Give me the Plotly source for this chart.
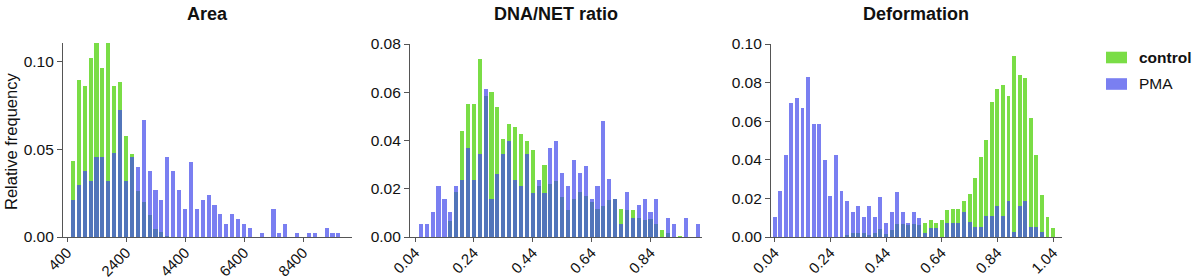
import plotly.graph_objects as go

# ---------------- data ----------------
area_centers = list(range(600, 9601, 200))
area_control = [0.0435, 0.0894, 0.0860, 0.1017, 0.111, 0.0964, 0.111, 0.0860, 0.0882, 0.0577,
                0.0471, 0.0264, 0.0201, 0.0125, 0.0046, 0.0030, 0.0005, 0, 0, 0,
                0, 0, 0, 0, 0, 0, 0, 0, 0, 0,
                0, 0, 0, 0, 0, 0, 0, 0, 0, 0,
                0, 0, 0, 0, 0, 0]
area_pma = [0.0211, 0.0294, 0.0374, 0.0321, 0.0454, 0.0454, 0.0321, 0.0480, 0.0723, 0.0321,
            0.0454, 0.0400, 0.0668, 0.0374, 0.0266, 0.0213, 0.0454, 0.0374, 0.0266, 0.0160,
            0.0427, 0.0160, 0.0210, 0.0237, 0.0184, 0.0129, 0.0076, 0.0129, 0.0102, 0.0076,
            0.0049, 0, 0.0023, 0, 0.0158, 0.0023, 0.0076, 0, 0.0023, 0,
            0.0023, 0.0023, 0, 0.0049, 0.0023, 0.0023]
area_ticks = [400, 2400, 4400, 6400, 8400]

dna_centers = [round(0.06 + 0.02 * i, 2) for i in range(48)]
dna_control = [0, 0, 0, 0, 0, 0.0066, 0.0188, 0.0439, 0.0551, 0.0551,
               0.0739, 0.0585, 0.0603, 0.0537, 0.0408, 0.0468, 0.0457, 0.0426, 0.0397, 0.0361,
               0.0213, 0.0298, 0.0221, 0.0232, 0.0166, 0.0110, 0.0158, 0.0188, 0.0170, 0.0147,
               0.0118, 0.0129, 0.0152, 0.0158, 0.0116, 0.0110, 0.0110, 0.0080, 0.0070, 0.0075,
               0.0053, 0.0028, 0.0017, 0, 0.0004, 0, 0, 0]
dna_pma = [0.0053, 0.0053, 0.0105, 0.0213, 0.0158, 0.0102, 0.0210, 0.0238, 0.0371, 0.0238,
           0.0343, 0.0613, 0.0156, 0.0263, 0.0343, 0.0399, 0.0237, 0.0210, 0.0343, 0.0183,
           0.0237, 0.0183, 0.0371, 0.0399, 0.0267, 0.0213, 0.0321, 0.0267, 0.0293, 0.0158,
           0.0213, 0.0482, 0.0240, 0.0158, 0.0053, 0.0185, 0.0080, 0.0133, 0.0158, 0.0105,
           0.0158, 0, 0.0080, 0.0053, 0, 0.0080, 0, 0.0053]
dna_ticks = [0.04, 0.24, 0.44, 0.64, 0.84]

def_centers = [round(0.04 + 0.02 * i, 2) for i in range(51)]
def_control = [0, 0, 0, 0, 0, 0, 0, 0, 0, 0,
               0, 0, 0, 0.0010, 0.0020, 0.0020, 0.0020, 0.0010, 0.0020, 0.0040,
               0.0014, 0.0035, 0.0066, 0.0066, 0.0060, 0.0066, 0.0060, 0.0071, 0.0088, 0.0071,
               0.0088, 0.0138, 0.0147, 0.0147, 0.0187, 0.0221, 0.0306, 0.0417, 0.0502, 0.0700,
               0.0765, 0.0789, 0.0730, 0.0938, 0.0837, 0.0824, 0.0618, 0.0424, 0.0216, 0.0104,
               0.0045]
def_pma = [0.0104, 0.0240, 0.0427, 0.0695, 0.0721, 0.0670, 0.0829, 0.0587, 0.0587, 0.0401,
           0.0213, 0.0427, 0.0239, 0.0185, 0.0131, 0.0159, 0.0104, 0.0159, 0.0104, 0.0208,
           0.0074, 0.0128, 0.0235, 0.0128, 0.0074, 0.0128, 0.0100, 0.0022, 0.0048, 0.0048,
           0, 0.0074, 0.0074, 0.0074, 0.0131, 0.0078, 0.0052, 0.0052, 0.0107, 0.0107,
           0.0159, 0.0107, 0.0185, 0.0026, 0.0159, 0.0185, 0.0052, 0.0052, 0.0026, 0, 0]
def_ticks = [0.04, 0.24, 0.44, 0.64, 0.84, 1.04]

panel_titles = ["Area", "DNA/NET ratio", "Deformation"]
series_names = ["control", "PMA"]

# ---------------- style ----------------
GREEN = "rgb(122,221,70)"
BLUE = "rgba(66,72,235,0.7)"
FONT = "Liberation Sans, Arial, sans-serif"
AXC = "#555555"
W, H = 1193, 279

fig = go.Figure()

panels = [
    (area_centers, area_control, area_pma, 200, "x", "y"),
    (dna_centers, dna_control, dna_pma, 0.02, "x2", "y2"),
    (def_centers, def_control, def_pma, 0.02, "x3", "y3"),
]
for i, (xs, c, p, bw, xa, ya) in enumerate(panels):
    fig.add_trace(go.Bar(x=xs, y=c, width=bw * 0.7, marker=dict(color=GREEN, line=dict(width=0)),
                         name=series_names[0], showlegend=False, xaxis=xa, yaxis=ya))
    fig.add_trace(go.Bar(x=xs, y=p, width=bw * 0.7, marker=dict(color=BLUE, line=dict(width=0)),
                         name=series_names[1], showlegend=False, xaxis=xa, yaxis=ya))


def px_x(a, b):
    return [a / W, b / W]


def py(v):
    return 1 - v / H


ydom = [py(237), py(44)]
xdoms = [px_x(63, 352), px_x(410, 702), px_x(771, 1062)]
xranges = [[264, 10060], [0.023, 1.015], [0.027, 1.072]]
xticks = [area_ticks, dna_ticks, def_ticks]
yranges = [[0, 0.1104], [0, 0.08], [0, 0.10]]
yticks = [[0, 0.05, 0.10], [0, 0.02, 0.04, 0.06, 0.08], [0, 0.02, 0.04, 0.06, 0.08, 0.10]]
ydoms = [[py(237), py(43)], ydom, ydom]

common_axis = dict(showline=True, linecolor=AXC, linewidth=1.2, ticks="outside", ticklen=5,
                   tickcolor=AXC, tickwidth=1.2, showgrid=False, zeroline=False,
                   tickfont=dict(family=FONT, size=15.5, color="#111"), automargin=False)

layout = dict(
    width=W, height=H, margin=dict(l=0, r=0, t=0, b=0),
    paper_bgcolor="white", plot_bgcolor="white",
    barmode="overlay", bargap=0,
    font=dict(family=FONT, color="#111"),
    showlegend=False,
)
for i in range(3):
    sfx = "" if i == 0 else str(i + 1)
    layout["xaxis" + sfx] = dict(common_axis, domain=xdoms[i], range=xranges[i],
                                 tickvals=xticks[i],
                                 ticktext=[(f"{v:.2f}" if isinstance(v, float) else str(v)) for v in xticks[i]],
                                 tickangle=-45, anchor="y" + sfx, ticklen=4,
                                 ticklabelstandoff=-4,
                                 tickfont=dict(family=FONT, size=15, color="#111"))
    layout["yaxis" + sfx] = dict(common_axis, domain=ydoms[i], range=yranges[i],
                                 tickvals=yticks[i], ticktext=[f"{v:.2f}" for v in yticks[i]],
                                 anchor="x" + sfx)

fig.update_layout(**layout)

annotations = []
centers_px = [207.5, 556, 916.5]
for t, cx in zip(panel_titles, centers_px):
    annotations.append(dict(text="<b>" + t + "</b>", x=cx / W, y=py(14), xref="paper", yref="paper",
                            showarrow=False, xanchor="center", yanchor="middle",
                            font=dict(family=FONT, size=18, color="#111")))
annotations.append(dict(text="Relative frequency", x=11 / W, y=py(142), xref="paper", yref="paper",
                        showarrow=False, textangle=-90, xanchor="center", yanchor="middle",
                        font=dict(family=FONT, size=16.5, color="#111")))

# legend (swatch + label per series)
shapes = []
legend_rows = [(series_names[0], GREEN, 57.5, True), (series_names[1], BLUE, 84, False)]
for name, col, cy, bold in legend_rows:
    shapes.append(dict(type="rect", xref="paper", yref="paper",
                       x0=1106 / W, x1=1127 / W, y0=py(cy + 5.8), y1=py(cy - 5.8),
                       fillcolor=col, line=dict(width=0)))
    annotations.append(dict(text=("<b>" + name + "</b>") if bold else name, x=1137 / W, y=py(cy),
                            xref="paper", yref="paper", showarrow=False,
                            xanchor="left", yanchor="middle",
                            font=dict(family=FONT, size=15.5, color="#111")))

fig.update_layout(annotations=annotations, shapes=shapes)

fig.write_html("out.html", config={"displayModeBar": False},
               post_script="document.body.style.margin='0px';document.body.style.overflow='hidden';")
